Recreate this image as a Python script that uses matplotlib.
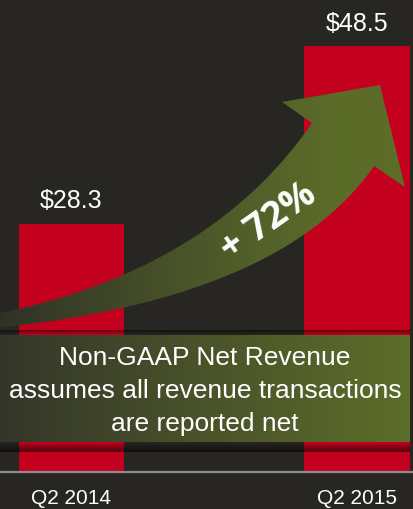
import numpy as np
import matplotlib
matplotlib.use('Agg')
import matplotlib.pyplot as plt
from matplotlib.colors import LinearSegmentedColormap
from matplotlib.patches import Polygon

plt.rcParams['font.family'] = ['Liberation Sans', 'DejaVu Sans']

# data
quarters = ['Q2 2014', 'Q2 2015']
revenue = [28.3, 48.5]
growth_label = '+ 72%'
note = 'Non-GAAP Net Revenue\nassumes all revenue transactions\nare reported net'

BG = '#282622'
RED = '#c4001f'

fig = plt.figure(figsize=(4.14, 5.09), dpi=100, facecolor=BG)

# main bar chart, baseline sits 37 px above the bottom edge
ax = fig.add_axes([0, 37 / 509, 1, 472 / 509])
ax.set_facecolor(BG)
x = np.arange(len(quarters))
ax.bar(x, revenue, width=0.37, color=RED, zorder=2)
ax.set_xlim(-0.25, 1.2)
ax.set_ylim(0, 53.8)
for s in ax.spines.values():
    s.set_visible(False)
ax.set_yticks([])
ax.set_xticks(x, quarters)
ax.tick_params(axis='x', length=0, pad=12, labelsize=15, labelcolor='white')
ax.axhline(0, color='#8c8c8c', lw=1.6, clip_on=False, zorder=3)
for xi, v in zip(x, revenue):
    ax.text(xi, v + 1.8, f'${v}', ha='center', va='baseline', fontsize=18, color='white')

# overlay in pixel units for the decorations (arrow + note box)
ov = fig.add_axes([0, 0, 1, 1])
ov.set_xlim(0, 414)
ov.set_ylim(509, 0)
ov.axis('off')


def bez(p0, c, p1, n=80):
    t = np.linspace(0, 1, n)[:, None]
    return (1 - t) ** 2 * np.array(p0) + 2 * (1 - t) * t * np.array(c) + t ** 2 * np.array(p1)


upper = bez((-5, 314), (210, 271), (312, 123))
lower = bez((-5, 328), (282, 299), (374, 166))
head = np.array([(282, 102), (380, 85), (405, 187)])
outline = np.vstack([upper, head, lower[::-1]])
arrow = Polygon(outline, closed=True, fc='none', ec='none')
ov.add_patch(arrow)

arrow_cmap = LinearSegmentedColormap.from_list(
    'arr', [(0, '#303226'), (0.55, '#4f5c2a'), (0.8, '#5b6b28'), (1, '#5e6e28')])
grad = np.linspace(0, 1, 256)[None, :]
im = ov.imshow(grad, cmap=arrow_cmap, extent=(0, 414, 340, 80), aspect='auto', zorder=2)
im.set_clip_path(arrow)

ov.text(268, 222, growth_label, rotation=35, rotation_mode='anchor', ha='center', va='center',
        fontsize=27, fontweight='bold', color='white', family=['Open Sans', 'DejaVu Sans'], zorder=3)

# note box with shadow
shadow = np.zeros((20, 1, 4))
shadow[..., 3] = np.linspace(0.6, 0, 20)[:, None]
ov.imshow(shadow, extent=(0, 410, 442, 452), aspect='auto', zorder=3)
top_sh = np.zeros((10, 1, 4))
top_sh[..., 3] = np.linspace(0, 0.5, 10)[:, None]
ov.imshow(top_sh, extent=(0, 410, 330, 335), aspect='auto', zorder=3)

box_cmap = LinearSegmentedColormap.from_list('box', ['#33362a', '#4a5329', '#5d6d2a'])
ov.imshow(grad, cmap=box_cmap, extent=(0, 410, 442, 335), aspect='auto', zorder=4)
ov.text(205, 391, note, ha='center', va='center', fontsize=19, color='white',
        linespacing=1.45, zorder=5)

ov.set_xlim(0, 414)
ov.set_ylim(509, 0)

fig.savefig('out.png', dpi=100, facecolor=BG)
